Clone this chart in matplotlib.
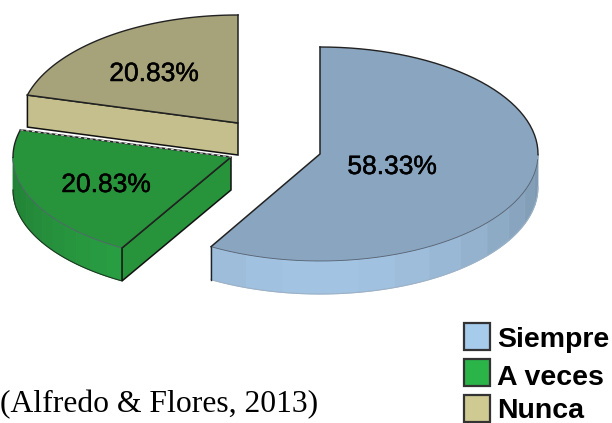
import numpy as np
import matplotlib
matplotlib.use('Agg')
import matplotlib.pyplot as plt
import matplotlib.patheffects as pe
from matplotlib.patches import Polygon, Rectangle
from matplotlib.colors import to_rgb

categories = ['Siempre', 'A veces', 'Nunca']
values = [58.33, 20.83, 20.84]
labels = ['58.33%', '20.83%', '20.83%']
source = '(Alfredo & Flores, 2013)'

top_colors = ['#8AA5BF', '#27933A', '#A6A27A']
rim_colors = ['#A2C3E2', '#2BA545', '#C4BF8C']
key_colors = ['#A6CBEB', '#2BB549', '#CFCA92']

# slice centre and radii in pixels (cx, cy, rx, ry, depth)
shape = [(320, 154, 218, 107, 33),
         (231, 157, 218, 105, 33),
         (238, 123, 218, 108, 32)]
text_pos = [(392, 167), (106, 185), (154, 74)]


def arc(s, a0, a1):
    a = np.radians(np.linspace(a0, a1, 80))
    return np.column_stack([s[0] + s[2] * np.cos(a), s[1] - s[3] * np.sin(a)])


def point(s, a):
    return arc(s, a, a)[0]


def shade(color, a):
    # lighter toward the front of the pie, darker toward the sides
    f = 0.78 + 0.22 * abs(np.sin(np.radians(a))) ** 1.5
    return tuple(min(1, c * f) for c in to_rgb(color))


fig = plt.figure(figsize=(6.12, 4.23), dpi=100)
ax = fig.add_axes([0, 0, 1, 1])
ax.set_xlim(0, 612)
ax.set_ylim(423, 0)
ax.axis('off')

# angles come from the values, clockwise from the top
edges = 90 - np.cumsum([0] + values) * 3.6
stroke = [pe.withStroke(linewidth=0.35, foreground='black')]

for i in [2, 1, 0]:
    s = shape[i]
    a0, a1 = edges[i], edges[i + 1]
    outer = arc(s, a0, a1)
    centre = np.array([s[0], s[1]])
    d = np.array([0, s[4]])

    # rim, in bands
    lo, hi = max(a1, -180), min(a0, 0)
    if lo < hi:
        steps = np.linspace(hi, lo, 13)
        for a, b in zip(steps[:-1], steps[1:]):
            p = arc(s, a, b)
            c = shade(rim_colors[i], (a + b) / 2)
            ax.add_patch(Polygon(np.vstack([p, (p + d)[::-1]]), fc=c, ec=c, lw=0.6, zorder=2 + (2 - i)))
        p = arc(s, hi, lo)
        ax.plot(*(p + d).T, color='#9DB2C6' if i == 0 else '#1c3a22', lw=0.8, zorder=3 + (2 - i))

    # flat cut side facing the viewer
    if i == 2:
        corner = point(s, a0)
        ax.add_patch(Polygon([centre, corner, corner + d, centre + d], fc=rim_colors[i], ec='#111111', lw=1.1, zorder=3))
    if i == 1:
        corner = point(s, a0)
        ax.add_patch(Polygon([centre, corner, corner + d, centre + d], fc=top_colors[i], ec='#111111', lw=1.1, zorder=4))
    if i == 0:
        corner = point(s, a1)
        ax.plot([corner[0], corner[0]], [corner[1], corner[1] + s[4]], color='#222222', lw=1, zorder=5)

    # top face
    ax.add_patch(Polygon(np.vstack([centre, outer]), fc=top_colors[i], ec='none', zorder=5))
    front = outer[:, 1] > s[1] + 2
    ax.plot(*outer[~front].T, color='#222222', lw=1, zorder=6)
    ax.plot(*outer[front].T, color='#556070', lw=0.6, zorder=6)
    ax.plot(*np.array([point(s, a0), centre, point(s, a1)]).T, color='#222222', lw=1.1, zorder=6)

    # thin light dashes along the back edge of the green slice
    if i == 1:
        ax.plot(*np.array([point(s, a1), centre]).T, color='#dddddd', lw=0.7, ls=(0, (3, 3)), zorder=7)

    ax.text(*text_pos[i], labels[i], family='Liberation Sans', fontsize=19, color='black',
            ha='center', va='center', zorder=8, path_effects=stroke)

# legend
key_y = [323, 359, 395]
base_y = [347, 385, 418]
for name, c, ky, by in zip(categories, key_colors, key_y, base_y):
    ax.add_patch(Rectangle((463.5, ky), 26, 27, fc=c, ec='#333333', lw=1.6, zorder=8))
    ax.text(497, by, name, family='Liberation Sans', fontsize=20.5, color='black', va='baseline',
            zorder=8, fontweight='bold')

ax.text(0, 412, source, family='Liberation Serif', fontsize=22.8, color='black', va='baseline')

fig.savefig('out.png', dpi=100)
